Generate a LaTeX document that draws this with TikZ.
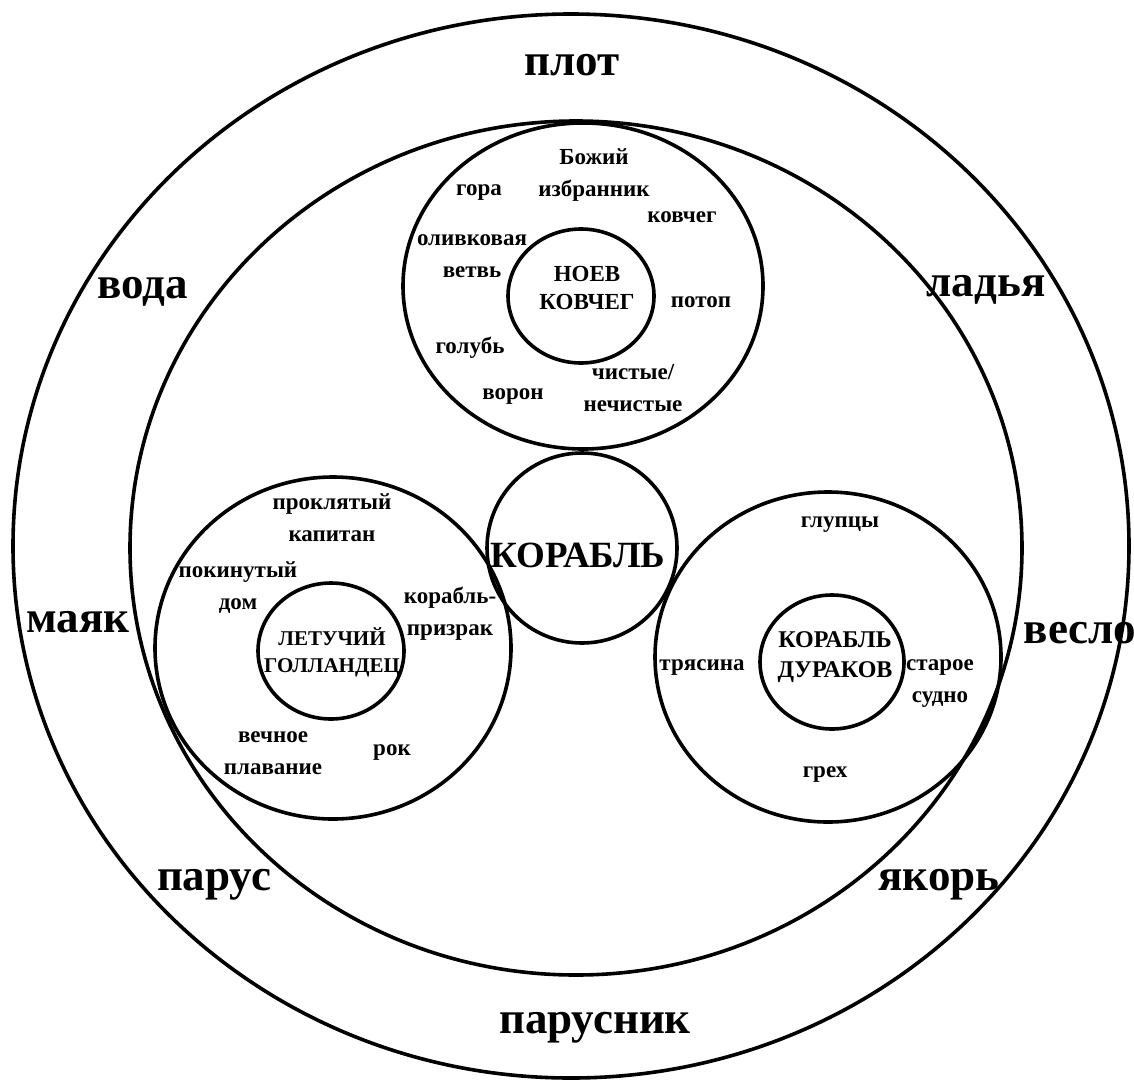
\documentclass[tikz,border=0pt]{standalone}
\usepackage{fontspec}
\setmainfont{Liberation Serif}[BoldFont={Liberation Serif Bold}]
\begin{document}
\begin{tikzpicture}[x=1pt,y=-1pt,
  ring/.style={line width=3.6pt},
  biglbl/.style={font=\fontsize{45}{48}\selectfont\bfseries, inner sep=0pt},
  titlelbl/.style={font=\fontsize{23}{28}\selectfont\bfseries, inner sep=0pt, align=center},
  smalllbl/.style={font=\fontsize{23}{32}\selectfont\bfseries, inner sep=0pt, align=center}]
\useasboundingbox[fill=white] (0,0) rectangle (1134,1081);
% rings
\draw[ring] (571,546) ellipse [x radius=558pt, y radius=532pt];
\draw[ring] (576,548) ellipse [x radius=446pt, y radius=427pt];
\draw[ring] (583,286) ellipse [x radius=180pt, y radius=163pt];
\draw[ring] (581,296) ellipse [x radius=73pt, y radius=67pt];
\draw[ring] (582,548) ellipse [x radius=95pt, y radius=95pt];
\draw[ring] (333,648) ellipse [x radius=178pt, y radius=171pt];
\draw[ring] (331,651) ellipse [x radius=73pt, y radius=68pt];
\draw[ring] (828,657) ellipse [x radius=173pt, y radius=165pt];
\draw[ring] (832,662) ellipse [x radius=72pt, y radius=67pt];
% outer labels
\node[biglbl] (plot) at (572,65) {плот};
\node[biglbl] (voda) at (143,292) {вода};
\node[biglbl] (ladya) at (986,290) {ладья};
\node[biglbl] (mayak) at (78,622) {маяк};
\node[biglbl] (veslo) at (1080,633) {весло};
\node[biglbl] (parus) at (214,885) {парус};
\node[biglbl] (yakor) at (939,885) {якорь};
\node[biglbl] (parusnik) at (595,1028) {парусник};
% centre
\node[font=\fontsize{37}{40}\selectfont\bfseries, inner sep=0pt] (korabl) at (578,555) {КОРАБЛЬ};
% Noah
\node[titlelbl] (noev) at (587,288) {НОЕВ\\КОВЧЕГ};
\node[smalllbl] (bozhiy) at (594,175) {Божий\\избранник};
\node[smalllbl] (gora) at (479,193) {гора};
\node[smalllbl] (kovcheg) at (682,217) {ковчег};
\node[smalllbl] (oliv) at (472,256) {оливковая\\ветвь};
\node[smalllbl] (potop) at (701,302) {потоп};
\node[smalllbl] (golub) at (470,348) {голубь};
\node[smalllbl] (chist) at (633,388) {чистые/\\нечистые};
\node[smalllbl] (voron) at (513,397) {ворон};
% Flying Dutchman
\node[titlelbl, font=\fontsize{21}{27}\selectfont\bfseries] (dutch) at (332,652) {ЛЕТУЧИЙ\\ГОЛЛАНДЕЦ};
\node[smalllbl] (proklyat) at (332,518) {проклятый\\капитан};
\node[smalllbl] (pokinut) at (238,588) {покинутый\\дом};
\node[smalllbl] (prizrak) at (450,614) {корабль-\\призрак};
\node[smalllbl] (vechnoe) at (273,753) {вечное\\плавание};
\node[smalllbl] (rok) at (392,753) {рок};
% Ship of fools
\node[titlelbl, font=\fontsize{24}{30}\selectfont\bfseries] (durakov) at (835,657) {КОРАБЛЬ\\ДУРАКОВ};
\node[smalllbl] (glupcy) at (840,525) {глупцы};
\node[smalllbl] (tryasina) at (702,668) {трясина};
\node[smalllbl] (staroe) at (940,684) {старое\\судно};
\node[smalllbl] (greh) at (825,775) {грех};
\end{tikzpicture}
\end{document}
